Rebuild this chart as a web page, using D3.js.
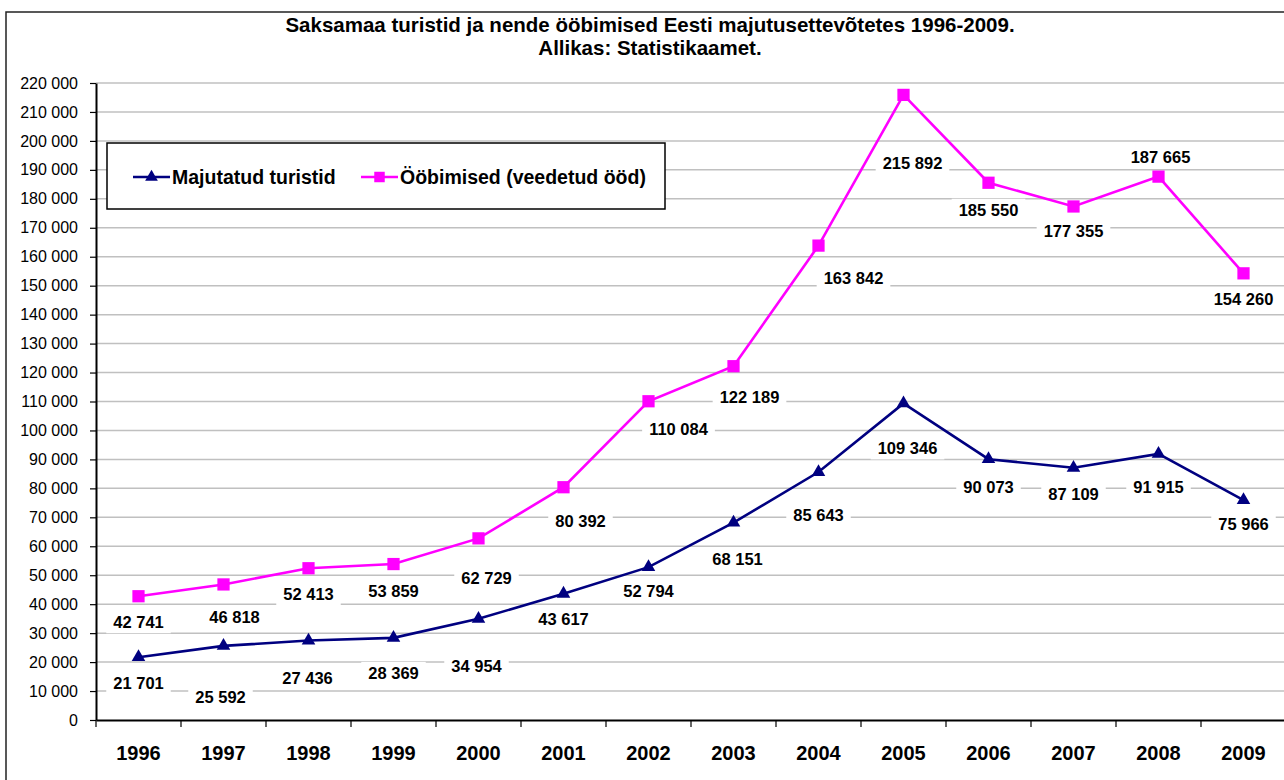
<!DOCTYPE html>
<html>
<head>
<meta charset="utf-8">
<script src="https://cdn.jsdelivr.net/npm/d3@7"></script>
<style>
  body { margin: 0; background: #fff; overflow: hidden; }
  svg { display: block; }
  text { font-family: Arial, "Liberation Sans", sans-serif; }
</style>
</head>
<body>
<div class="graphic"></div>
<script>
var width = 1284;
var height = 780;

// data
var years = ["1996", "1997", "1998", "1999", "2000", "2001", "2002",
             "2003", "2004", "2005", "2006", "2007", "2008", "2009"];
var tourists = [21701, 25592, 27436, 28369, 34954, 43617, 52794,
                68151, 85643, 109346, 90073, 87109, 91915, 75966];
var nights = [42741, 46818, 52413, 53859, 62729, 80392, 110084,
              122189, 163842, 215892, 185550, 177355, 187665, 154260];
var yTicks = d3.range(0, 220001, 10000);

var titleLines = ["Saksamaa turistid ja nende ööbimised Eesti majutusettevõtetes 1996-2009.",
                  "Allikas: Statistikaamet."];
var seriesNames = ["Majutatud turistid", "Ööbimised (veedetud ööd)"];

// hand placed label nudges [dx, dy] (like the original sheet)
var touristNudge = [[0,26],[-3,51],[-1,37],[0,35],[-2,47],[0,25],[0,24],
                    [4,36],[0,43],[4,45],[0,28],[0,26],[0,33],[0,24]];
var nightNudge = [[0,26],[11,33],[0,26],[0,27],[8,40],[17,34],[30,28],
                  [16,31],[35,32],[9,68],[0,27],[0,25],[2,-20],[0,26]];

var blue = "#000080";
var pink = "#ff00ff";

var fmt = d3.formatLocale({decimal: ",", thousands: " ", grouping: [3], currency: ["", ""]}).format(",d");

var svg = d3.select("div.graphic").append("svg")
	.attr("width", width)
	.attr("height", height);

// outer frame: only top and left edge are inside the picture
svg.append("path")
	.attr("d", "M6," + height + "V12H" + width)
	.attr("fill", "none")
	.attr("stroke", "#222")
	.attr("stroke-width", 1.5);

var x = d3.scaleBand().domain(years).range([96, 1286]);
var y = d3.scaleLinear().domain([0, 220000]).range([720, 83]);

function cx(i){ return x(years[i]) + x.bandwidth() / 2; }

// title
svg.selectAll("text.title")
	.data(titleLines)
	.enter()
	.append("text")
	.attr("class", "title")
	.attr("x", 650)
	.attr("y", function(d, i){ return 32 + i * 23; })
	.attr("text-anchor", "middle")
	.attr("font-size", "20.5px")
	.attr("font-weight", "bold")
	.text(function(d){ return d; });

// gridlines
svg.append("g")
	.selectAll("line")
	.data(yTicks.slice(1))
	.enter()
	.append("line")
	.attr("x1", 96).attr("x2", 1286)
	.attr("y1", function(d){ return y(d); })
	.attr("y2", function(d){ return y(d); })
	.attr("stroke", "#c0c0c0")
	.attr("stroke-width", 1.5);

// y axis
var yAxis = svg.append("g")
	.attr("transform", "translate(96,0)")
	.call(d3.axisLeft(y).tickValues(yTicks).tickFormat(fmt).tickSize(6).tickPadding(12).tickSizeOuter(0));
yAxis.select(".domain").attr("stroke", "#000").attr("stroke-width", 2);
yAxis.selectAll(".tick line").attr("stroke", "#000").attr("stroke-width", 1.2);
yAxis.selectAll("text").attr("font-size", "16px").attr("fill", "#000")
	.style("font-family", "Arial, 'Liberation Sans', sans-serif");

// x axis
var xAxis = svg.append("g")
	.attr("transform", "translate(0,720)")
	.call(d3.axisBottom(x).tickSize(0).tickPadding(26));
xAxis.select(".domain").attr("stroke", "#000").attr("stroke-width", 2);
xAxis.selectAll("text").attr("font-size", "20px").attr("font-weight", "bold").attr("fill", "#000")
	.style("font-family", "Arial, 'Liberation Sans', sans-serif");
// category boundary ticks
svg.append("g")
	.selectAll("line")
	.data(years)
	.enter()
	.append("line")
	.attr("x1", function(d){ return x(d); })
	.attr("x2", function(d){ return x(d); })
	.attr("y1", 720).attr("y2", 727)
	.attr("stroke", "#000")
	.attr("stroke-width", 1.2);

// lines
var line = d3.line()
	.x(function(d, i){ return cx(i); })
	.y(function(d){ return y(d); });

function drawSeries(values, color, symbol, size){
	var g = svg.append("g");
	g.append("path")
		.datum(values)
		.attr("d", line)
		.attr("fill", "none")
		.attr("stroke", color)
		.attr("stroke-width", 2.6);
	g.selectAll("path.mark")
		.data(values)
		.enter()
		.append("path")
		.attr("class", "mark")
		.attr("d", d3.symbol().type(symbol).size(size))
		.attr("transform", function(d, i){ return "translate(" + cx(i) + "," + y(d) + ")"; })
		.attr("fill", color);
}

drawSeries(tourists, blue, d3.symbolTriangle, 80);
drawSeries(nights, pink, d3.symbolSquare, 150);

// data labels with white boxes
function drawLabels(values, nudge){
	var g = svg.append("g");
	var items = g.selectAll("g")
		.data(values)
		.enter()
		.append("g")
		.attr("transform", function(d, i){
			return "translate(" + (cx(i) + nudge[i][0]) + "," + (y(d) + nudge[i][1]) + ")";
		});
	items.append("rect").attr("fill", "#fff");
	items.append("text")
		.attr("text-anchor", "middle")
		.attr("dy", "0.36em")
		.attr("font-size", "16.5px")
		.attr("font-weight", "bold")
		.text(function(d){ return fmt(d); });
	items.each(function(){
		var t = d3.select(this).select("text").node();
		var w = t.getComputedTextLength();
		d3.select(this).select("rect")
			.attr("x", -w / 2 - 7).attr("y", -11)
			.attr("width", w + 14).attr("height", 22);
	});
}

drawLabels(tourists, touristNudge);
drawLabels(nights, nightNudge);

// legend
var legend = svg.append("g");
legend.append("rect")
	.attr("x", 107).attr("y", 143)
	.attr("width", 558).attr("height", 66)
	.attr("fill", "#fff")
	.attr("stroke", "#000")
	.attr("stroke-width", 1.5);

var legendItems = [
	{name: seriesNames[0], color: blue, symbol: d3.symbolTriangle, size: 70, x: 133},
	{name: seriesNames[1], color: pink, symbol: d3.symbolSquare, size: 110, x: 361}
];
var li = legend.selectAll("g.item")
	.data(legendItems)
	.enter()
	.append("g")
	.attr("class", "item")
	.attr("transform", function(d){ return "translate(" + d.x + ",177)"; });
li.append("line")
	.attr("x1", 0).attr("x2", 37)
	.attr("stroke", function(d){ return d.color; })
	.attr("stroke-width", 2.6);
li.append("path")
	.attr("d", function(d){ return d3.symbol().type(d.symbol).size(d.size)(); })
	.attr("transform", "translate(18.5,0)")
	.attr("fill", function(d){ return d.color; });
li.append("text")
	.attr("x", 39)
	.attr("dy", "0.36em")
	.attr("font-size", "19.5px")
	.attr("font-weight", "bold")
	.text(function(d){ return d.name; });
</script>
</body>
</html>
